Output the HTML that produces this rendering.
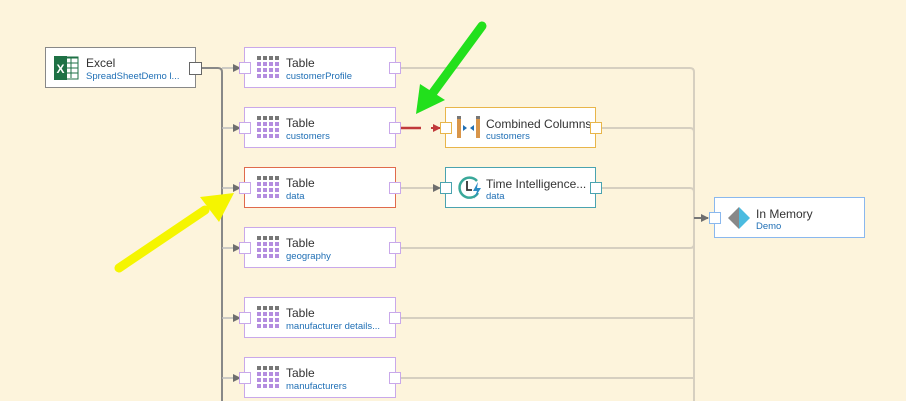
<!DOCTYPE html>
<html><head><style>
html,body{margin:0;padding:0;background:#fdf4dc;}
svg{display:block}
text{font-family:"Liberation Sans",sans-serif}
</style></head><body>
<svg width="906" height="401" viewBox="0 0 906 401" xmlns="http://www.w3.org/2000/svg">
<defs>
<marker id="ag" markerWidth="8" markerHeight="8" refX="7" refY="4" orient="auto" markerUnits="userSpaceOnUse"><path d="M0,0 L8,4 L0,8z" fill="#6e6e6e"/></marker>
<marker id="ar" markerWidth="8" markerHeight="8" refX="7" refY="4" orient="auto" markerUnits="userSpaceOnUse"><path d="M0,0 L8,4 L0,8z" fill="#c0393b"/></marker>
<g id="grid">
<g fill="#777"><rect x="0" y="0" width="4" height="4"/><rect x="6" y="0" width="4" height="4"/><rect x="12" y="0" width="4" height="4"/><rect x="18" y="0" width="4" height="4"/></g>
<g fill="#b48de0">
<rect x="0" y="6" width="4" height="4"/><rect x="6" y="6" width="4" height="4"/><rect x="12" y="6" width="4" height="4"/><rect x="18" y="6" width="4" height="4"/>
<rect x="0" y="12" width="4" height="4"/><rect x="6" y="12" width="4" height="4"/><rect x="12" y="12" width="4" height="4"/><rect x="18" y="12" width="4" height="4"/>
<rect x="0" y="18" width="4" height="4"/><rect x="6" y="18" width="4" height="4"/><rect x="12" y="18" width="4" height="4"/><rect x="18" y="18" width="4" height="4"/>
</g></g>
</defs>
<!-- connectors -->
<g fill="none" stroke="#d6cfc0" stroke-width="2">
<path d="M401,68 H690 Q694,68 694,72 V401"/>
<path d="M401,248 H690 Q694,248 694,244"/>
<path d="M401,318 H694"/>
<path d="M401,378 H694"/>
<path d="M601,128 H690 Q694,128 694,132"/>
<path d="M601,188 H690 Q694,188 694,192"/>
</g>
<path d="M694,218 H708" stroke="#777" stroke-width="2" marker-end="url(#ag)"/>
<path d="M401,188 H440" stroke="#d6cfc0" stroke-width="2" marker-end="url(#ag)"/>
<path d="M201,68 H218 Q222,68 222,72 V401" fill="none" stroke="#888" stroke-width="2"/>
<g stroke="#bbb" stroke-width="1.5" marker-end="url(#ag)">
<path d="M222,68 H240"/><path d="M222,128 H240"/><path d="M222,188 H240"/><path d="M222,248 H240"/><path d="M222,318 H240"/><path d="M222,378 H240"/>
</g>
<path d="M401,128 H421" stroke="#c0393b" stroke-width="2.5"/>
<path d="M431,128 H440" stroke="#c0393b" stroke-width="2" marker-end="url(#ar)"/>

<!-- Excel -->
<rect x="45.5" y="47.5" width="150" height="40" fill="#fff" stroke="#888"/>
<rect x="56" y="57" width="22" height="22" fill="#fff" stroke="#1e7145"/>
<path d="M65,58 H78 M65,63 H78 M65,68 H78 M65,73 H78 M71,58 V78" stroke="#1e7145" stroke-width="1"/>
<rect x="54" y="56" width="13" height="24" fill="#1e7145"/>
<text x="60.5" y="73" fill="#fff" font-size="12" font-weight="bold" text-anchor="middle">X</text>
<text x="86" y="67" font-size="12" fill="#333">Excel</text>
<text x="86" y="79" font-size="9.5" fill="#1f6fb5">SpreadSheetDemo l...</text>
<rect x="189.5" y="62.5" width="12" height="12" fill="#fff" stroke="#666"/>

<!-- tables -->
<g font-size="12">
<g transform="translate(244,47)"><rect x="0.5" y="0.5" width="151" height="40" fill="#fff" stroke="#c9a8ea"/><use href="#grid" x="13" y="9"/><text x="42" y="20" fill="#333">Table</text><text x="42" y="32" font-size="9.5" fill="#1f6fb5">customerProfile</text></g>
<g transform="translate(244,107)"><rect x="0.5" y="0.5" width="151" height="40" fill="#fff" stroke="#c9a8ea"/><use href="#grid" x="13" y="9"/><text x="42" y="20" fill="#333">Table</text><text x="42" y="32" font-size="9.5" fill="#1f6fb5">customers</text></g>
<g transform="translate(244,167)"><rect x="0.5" y="0.5" width="151" height="40" fill="#fff" stroke="#e06a4c"/><use href="#grid" x="13" y="9"/><text x="42" y="20" fill="#333">Table</text><text x="42" y="32" font-size="9.5" fill="#1f6fb5">data</text></g>
<g transform="translate(244,227)"><rect x="0.5" y="0.5" width="151" height="40" fill="#fff" stroke="#c9a8ea"/><use href="#grid" x="13" y="9"/><text x="42" y="20" fill="#333">Table</text><text x="42" y="32" font-size="9.5" fill="#1f6fb5">geography</text></g>
<g transform="translate(244,297)"><rect x="0.5" y="0.5" width="151" height="40" fill="#fff" stroke="#c9a8ea"/><use href="#grid" x="13" y="9"/><text x="42" y="20" fill="#333">Table</text><text x="42" y="32" font-size="9.5" fill="#1f6fb5">manufacturer details...</text></g>
<g transform="translate(244,357)"><rect x="0.5" y="0.5" width="151" height="40" fill="#fff" stroke="#c9a8ea"/><use href="#grid" x="13" y="9"/><text x="42" y="20" fill="#333">Table</text><text x="42" y="32" font-size="9.5" fill="#1f6fb5">manufacturers</text></g>
</g>
<g fill="#fff" stroke="#c9a8ea">
<rect x="239.5" y="62.5" width="11" height="11"/><rect x="389.5" y="62.5" width="11" height="11"/>
<rect x="239.5" y="122.5" width="11" height="11"/><rect x="389.5" y="122.5" width="11" height="11"/>
<rect x="239.5" y="182.5" width="11" height="11"/><rect x="389.5" y="182.5" width="11" height="11"/>
<rect x="239.5" y="242.5" width="11" height="11"/><rect x="389.5" y="242.5" width="11" height="11"/>
<rect x="239.5" y="312.5" width="11" height="11"/><rect x="389.5" y="312.5" width="11" height="11"/>
<rect x="239.5" y="372.5" width="11" height="11"/><rect x="389.5" y="372.5" width="11" height="11"/>
</g>

<!-- Combined Columns -->
<rect x="445.5" y="107.5" width="150" height="40" fill="#fff" stroke="#e8b54a"/>
<rect x="457" y="116" width="4" height="22" fill="#d8954a"/><rect x="457" y="116" width="4" height="3" fill="#777"/>
<rect x="476" y="116" width="4" height="22" fill="#d8954a"/><rect x="476" y="116" width="4" height="3" fill="#777"/>
<path d="M463,125 l4,3 -4,3z M474,125 l-4,3 4,3z" fill="#1f6fb5"/>
<text x="486" y="128" font-size="12" fill="#333">Combined Columns</text>
<text x="486" y="139" font-size="9.5" fill="#1f6fb5">customers</text>
<rect x="440.5" y="122.5" width="11" height="11" fill="#fff" stroke="#e8b54a"/>
<rect x="590.5" y="122.5" width="11" height="11" fill="#fff" stroke="#e8b54a"/>

<!-- Time Intelligence -->
<rect x="445.5" y="167.5" width="150" height="40" fill="#fff" stroke="#4aa3b0"/>
<path d="M477,181 A10,10 0 1 0 478,193" fill="none" stroke="#3aa89a" stroke-width="2.5"/>
<path d="M467,181 V190 H472" fill="none" stroke="#333" stroke-width="1.8"/>
<path d="M478,182 L473,191 H477 L474,199 L481,188 H477z" fill="#2a8cc4"/>
<text x="486" y="188" font-size="12" fill="#333">Time Intelligence...</text>
<text x="486" y="199" font-size="9.5" fill="#1f6fb5">data</text>
<rect x="440.5" y="182.5" width="11" height="11" fill="#fff" stroke="#4aa3b0"/>
<rect x="590.5" y="182.5" width="11" height="11" fill="#fff" stroke="#4aa3b0"/>

<!-- In Memory -->
<rect x="714.5" y="197.5" width="150" height="40" fill="#fff" stroke="#8ab8ee"/>
<path d="M739,207 L728,218 L739,229z" fill="#888"/><path d="M739,207 L750,218 L739,229z" fill="#4bbbe0"/>
<text x="756" y="218" font-size="12" fill="#333">In Memory</text>
<text x="756" y="229" font-size="9.5" fill="#1f6fb5">Demo</text>
<rect x="709.5" y="212.5" width="11" height="11" fill="#fff" stroke="#8ab8ee"/>

<!-- annotation arrows -->
<g stroke-linecap="round">
<path d="M482,26 L432,94" stroke="#22e01c" stroke-width="9"/>
<path d="M416,114 L420,84 L445,100z" fill="#22e01c"/>
<path d="M119,268 L205,210" stroke="#f5f500" stroke-width="9"/>
<path d="M234,193 L200,197 L219,222z" fill="#f5f500"/>
</g>
</svg>
</body></html>
